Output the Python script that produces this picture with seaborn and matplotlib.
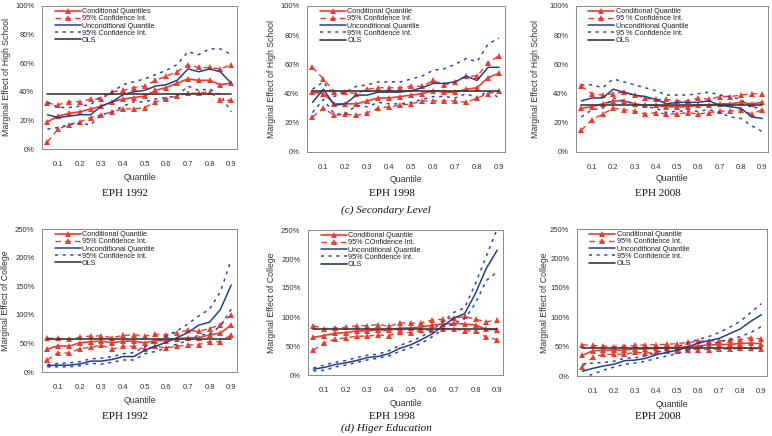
import numpy as np
import pandas as pd
import matplotlib
matplotlib.use("Agg")
import matplotlib.pyplot as plt
from matplotlib.ticker import PercentFormatter
import seaborn as sns

# quantiles shown on the x axis
quantiles = [0.05, 0.10, 0.15, 0.20, 0.25, 0.30, 0.35, 0.40, 0.45,
             0.50, 0.55, 0.60, 0.65, 0.70, 0.75, 0.80, 0.85, 0.90]
x_ticks = [0.1, 0.2, 0.3, 0.4, 0.5, 0.6, 0.7, 0.8, 0.9]

# (c) Secondary level - EPH 1992
hs92_cq    = [19, 23, 25, 26, 28, 30, 33, 35, 36, 37, 41, 43, 46, 49, 48, 48, 45, 46]
hs92_cq_hi = [32, 31, 33, 33, 35, 35, 40, 41, 43, 44, 48, 51, 54, 59, 57, 57, 56, 59]
hs92_cq_lo = [5, 14, 17, 19, 22, 24, 26, 28, 28, 29, 33, 35, 37, 39, 39, 40, 34, 34]
hs92_uq    = [24, 22, 23, 24, 24, 30, 33, 38, 40, 41, 44, 45, 48, 56, 54, 56, 54, 46]
hs92_uq_hi = [33, 29, 29, 30, 31, 37, 40, 45, 47, 49, 52, 55, 59, 68, 66, 70, 70, 66]
hs92_uq_lo = [14, 15, 17, 18, 17, 24, 26, 30, 33, 33, 35, 36, 37, 44, 41, 42, 38, 26]
hs92_ols   = 38.5

# (c) Secondary level - EPH 1998
hs98_cq    = [41, 40, 33, 33, 33, 35, 37, 37, 38, 39, 40, 42, 41, 41, 43, 44, 51, 54]
hs98_cq_hi = [58, 50, 41, 41, 40, 43, 44, 44, 44, 45, 45, 49, 46, 48, 52, 52, 61, 66]
hs98_cq_lo = [24, 30, 25, 26, 25, 27, 30, 31, 32, 33, 35, 35, 35, 35, 34, 37, 40, 42]
hs98_uq    = [34, 43, 32, 33, 39, 39, 41, 41, 41, 42, 44, 47, 47, 48, 52, 49, 58, 58]
hs98_uq_hi = [43, 48, 38, 41, 45, 46, 48, 48, 48, 50, 52, 56, 57, 60, 64, 62, 74, 78]
hs98_uq_lo = [27, 36, 26, 26, 32, 31, 34, 33, 33, 34, 36, 38, 38, 37, 40, 37, 42, 37]
hs98_ols   = 42

# (c) Secondary level - EPH 2008
hs08_cq    = [30, 31, 33, 35, 35, 33, 32, 32, 31, 31, 31, 32, 32, 33, 33, 34, 33, 34]
hs08_cq_hi = [45, 40, 39, 40, 41, 39, 37, 36, 36, 35, 35, 37, 36, 38, 38, 39, 40, 40]
hs08_cq_lo = [15, 22, 26, 30, 29, 28, 26, 27, 26, 26, 27, 26, 27, 28, 28, 29, 26, 29]
hs08_uq    = [35, 37, 37, 43, 41, 39, 38, 36, 33, 34, 34, 34, 35, 32, 31, 30, 24, 23]
hs08_uq_hi = [46, 46, 44, 50, 48, 46, 44, 42, 39, 39, 39, 40, 41, 39, 38, 36, 30, 31]
hs08_uq_lo = [24, 29, 30, 37, 35, 33, 31, 30, 27, 28, 28, 28, 29, 27, 24, 23, 18, 14]
hs08_ols   = 32.5

# (d) Higher education - EPH 1992
co92_cq    = [40, 46, 45, 51, 53, 54, 51, 54, 54, 51, 55, 55, 58, 60, 60, 65, 68, 82]
co92_cq_hi = [59, 59, 57, 61, 63, 63, 60, 64, 65, 63, 66, 65, 69, 73, 71, 76, 83, 100]
co92_cq_lo = [21, 34, 33, 41, 43, 47, 40, 45, 45, 40, 45, 42, 45, 47, 48, 53, 53, 65]
co92_uq    = [11, 12, 12, 14, 19, 19, 22, 27, 27, 38, 45, 52, 60, 69, 82, 87, 109, 152]
co92_uq_hi = [13, 15, 16, 18, 23, 24, 27, 32, 34, 44, 54, 63, 72, 84, 98, 110, 140, 196]
co92_uq_lo = [9, 9, 9, 11, 15, 14, 17, 21, 21, 32, 36, 42, 49, 55, 65, 66, 80, 110]
co92_ols   = 57

# (d) Higher education - EPH 1998
co98_cq    = [65, 68, 72, 73, 76, 76, 78, 77, 81, 81, 83, 86, 88, 89, 88, 86, 79, 78]
co98_cq_hi = [85, 80, 81, 82, 85, 85, 87, 84, 90, 89, 90, 95, 96, 98, 101, 96, 92, 94]
co98_cq_lo = [43, 55, 62, 64, 67, 67, 69, 68, 74, 73, 77, 78, 80, 80, 76, 76, 65, 61]
co98_uq    = [10, 13, 18, 21, 25, 30, 32, 37, 46, 52, 61, 71, 85, 98, 106, 141, 184, 215]
co98_uq_hi = [12, 17, 22, 25, 30, 34, 36, 42, 51, 58, 66, 78, 92, 108, 116, 158, 205, 252]
co98_uq_lo = [7, 8, 14, 17, 22, 26, 29, 33, 41, 47, 55, 66, 79, 89, 97, 124, 163, 178]
co98_ols   = 79

# (d) Higher education - EPH 2008
co08_cq    = [35, 43, 44, 44, 44, 46, 46, 47, 48, 48, 50, 51, 53, 53, 54, 55, 56, 55]
co08_cq_hi = [53, 52, 51, 50, 51, 52, 53, 53, 54, 55, 57, 59, 60, 60, 61, 62, 65, 63]
co08_cq_lo = [16, 32, 37, 37, 37, 40, 39, 41, 42, 42, 44, 45, 45, 46, 46, 47, 47, 46]
co08_uq    = [8, 13, 17, 20, 26, 27, 30, 36, 40, 44, 49, 56, 60, 64, 72, 80, 93, 104]
co08_uq_hi = [20, 22, 23, 25, 30, 31, 34, 40, 45, 50, 56, 62, 67, 74, 83, 93, 108, 123]
co08_uq_lo = [-3, 3, 10, 15, 20, 22, 25, 30, 34, 38, 43, 49, 54, 58, 62, 67, 74, 84]
co08_ols   = 47

sns.set_style("white")
plt.rcParams['font.family'] = ['Liberation Sans', 'DejaVu Sans']

RED = '#ee3b2e'
BLUE = '#21408e'
BLUE_DOT = '#2f45b5'
OLS_C = '#3a3a3a'

W, H = 772, 436
fig = plt.figure(figsize=(W / 100, H / 100), dpi=100)


def add_ax(left, right, top, bottom):
    return fig.add_axes([left / W, 1 - bottom / H, (right - left) / W, (bottom - top) / H])


def draw_panel(ax, cq, cq_hi, cq_lo, uq, uq_hi, uq_lo, ols, labels, ymax, ystep,
               ylabel, ylab_x, xlab_y):
    mk = dict(marker='^', markersize=4, markeredgewidth=0, markerfacecolor=RED)
    sns.lineplot(x=quantiles, y=cq, ax=ax, color=RED, lw=1.2, label=labels[0], **mk)
    sns.lineplot(x=quantiles, y=cq_hi, ax=ax, color=RED, lw=1.0,
                 linestyle=(0, (4, 3)), label=labels[1], **mk)
    sns.lineplot(x=quantiles, y=cq_lo, ax=ax, color=RED, lw=1.0,
                 linestyle=(0, (4, 3)), **mk)
    sns.lineplot(x=quantiles, y=uq, ax=ax, color=BLUE, lw=1.1, label=labels[2])
    sns.lineplot(x=quantiles, y=uq_hi, ax=ax, color=BLUE_DOT, lw=1.1,
                 linestyle=(0, (2, 3)), label=labels[3])
    sns.lineplot(x=quantiles, y=uq_lo, ax=ax, color=BLUE_DOT, lw=1.1,
                 linestyle=(0, (2, 3)))
    sns.lineplot(x=quantiles, y=np.full(len(quantiles), ols), ax=ax, color=OLS_C,
                 lw=1.2, label=labels[4])

    ax.set_xlim(0.025, 0.927)
    ax.set_ylim(0, ymax)
    ax.set_xticks(x_ticks)
    ax.set_xticklabels([f"{t:.1f}" for t in x_ticks])
    ax.set_yticks(np.arange(0, ymax + 1, ystep))
    ax.yaxis.set_major_formatter(PercentFormatter(xmax=100, decimals=0))
    ax.tick_params(axis='both', labelsize=5.5, length=2.5, width=0.6,
                   colors='#555555', labelcolor='#333333', pad=3)
    ax.tick_params(axis='x', pad=6)
    for s in ax.spines.values():
        s.set_color('#8a8a8a')
        s.set_linewidth(0.7)

    ax.set_xlabel('Quantile', fontsize=6.3, color='#333333')
    ax.set_ylabel(ylabel, fontsize=6.3, color='#333333')
    bb = ax.get_position()
    ax.yaxis.set_label_coords((ylab_x / W - bb.x0) / bb.width, 0.5)
    ax.xaxis.set_label_coords(0.5, ((1 - xlab_y / H) - bb.y0) / bb.height)

    leg = ax.legend(loc='upper left', bbox_to_anchor=(0.065, 0.985), frameon=False,
                    fontsize=5.2, handlelength=3.6, handletextpad=0.2,
                    labelspacing=0.02, borderpad=0, borderaxespad=0)
    for t in leg.get_texts():
        t.set_color('#222222')


lab_a = ['Conditional Quantiles', '95% Confidence Int.', 'Unconditional Quantile',
         '95% Confidence Int.', 'OLS']
lab_b = ['Conditional Quantile', '95% Confidence Int.', 'Unconditional Quantile',
         '95% Confidence Int.', 'OLS']
lab_c = ['Conditional Quantile', '95 % Confidence Int.', 'Unconditional Quantile',
         '95 % Confidence Int.', 'OLS']
lab_d = ['Conditional Quantile', '95% COnfidence Int.', 'Unconditional Quantile',
         '95% Confidence Int.', 'OLS']

hs_label = 'Marginal Effect of High School'
co_label = 'Marginal Effect of College'

ax1 = add_ax(42, 237, 6, 149)
draw_panel(ax1, hs92_cq, hs92_cq_hi, hs92_cq_lo, hs92_uq, hs92_uq_hi, hs92_uq_lo,
           hs92_ols, lab_a, 100, 20, hs_label, 11, 173)
ax2 = add_ax(307, 505, 6, 152)
draw_panel(ax2, hs98_cq, hs98_cq_hi, hs98_cq_lo, hs98_uq, hs98_uq_hi, hs98_uq_lo,
           hs98_ols, lab_b, 100, 20, hs_label, 276, 175)
ax3 = add_ax(576, 768, 6, 152)
draw_panel(ax3, hs08_cq, hs08_cq_hi, hs08_cq_lo, hs08_uq, hs08_uq_hi, hs08_uq_lo,
           hs08_ols, lab_c, 100, 20, hs_label, 540, 174)

ax4 = add_ax(42, 237, 229, 372)
draw_panel(ax4, co92_cq, co92_cq_hi, co92_cq_lo, co92_uq, co92_uq_hi, co92_uq_lo,
           co92_ols, lab_b, 250, 50, co_label, 10, 396)
ax5 = add_ax(308, 503, 230, 375)
draw_panel(ax5, co98_cq, co98_cq_hi, co98_cq_lo, co98_uq, co98_uq_hi, co98_uq_lo,
           co98_ols, lab_d, 250, 50, co_label, 276, 399)
ax6 = add_ax(577, 767, 229, 376)
draw_panel(ax6, co08_cq, co08_cq_hi, co08_cq_lo, co08_uq, co08_uq_hi, co08_uq_lo,
           co08_ols, lab_b, 250, 50, co_label, 549, 400)

serif = ['Liberation Serif', 'DejaVu Serif']
for xc, yc, txt in [(125, 193, 'EPH 1992'), (392, 193, 'EPH 1998'), (658, 193, 'EPH 2008'),
                    (125, 416, 'EPH 1992'), (392, 416, 'EPH 1998'), (658, 416, 'EPH 2008')]:
    fig.text(xc / W, 1 - yc / H, txt, ha='center', va='center', fontsize=8,
             family=serif, color='#111111')
fig.text(386 / W, 1 - 210 / H, '(c) Secondary Level', ha='center', va='center',
         fontsize=8, family=serif, style='italic', color='#111111')
fig.text(386 / W, 1 - 428 / H, '(d) Higer Education', ha='center', va='center',
         fontsize=8, family=serif, style='italic', color='#111111')

fig.savefig('out.png', dpi=100)
